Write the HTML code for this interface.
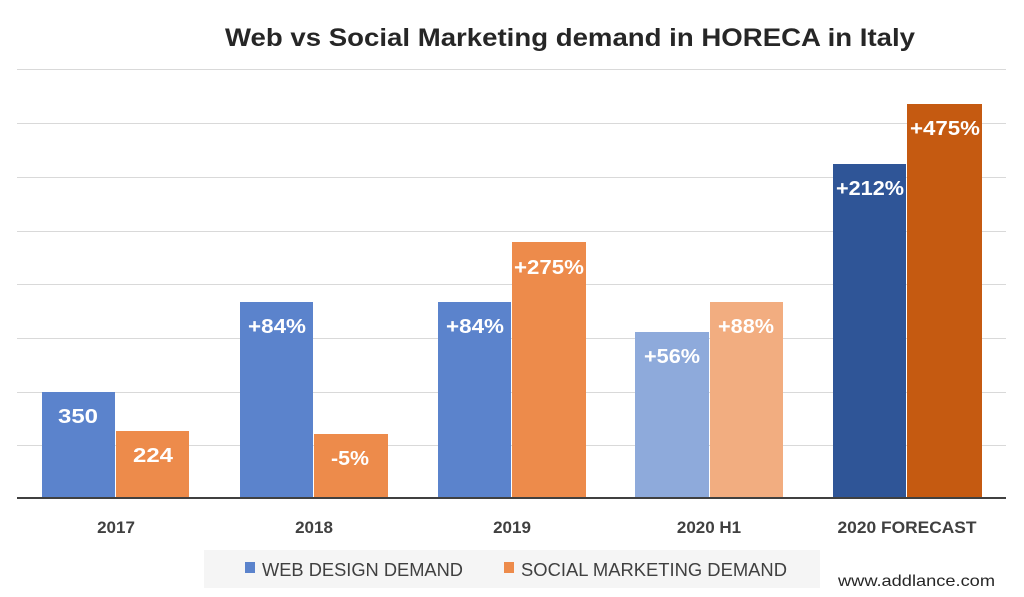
<!DOCTYPE html>
<html><head><meta charset="utf-8"><style>
html,body{margin:0;padding:0;background:#fff}
svg{display:block;font-family:"Liberation Sans",sans-serif}
</style></head><body>
<svg width="1024" height="597" viewBox="0 0 1024 597">
<rect width="1024" height="597" fill="#fff"/>
<text x="570" y="46" text-anchor="middle" font-size="25" font-weight="bold" fill="#262626" textLength="690" lengthAdjust="spacingAndGlyphs">Web vs Social Marketing demand in HORECA in Italy</text>
<g stroke="#d9d9d9" stroke-width="1">
<line x1="17" x2="1006" y1="69.5" y2="69.5"/>
<line x1="17" x2="1006" y1="123.5" y2="123.5"/>
<line x1="17" x2="1006" y1="177.5" y2="177.5"/>
<line x1="17" x2="1006" y1="231.5" y2="231.5"/>
<line x1="17" x2="1006" y1="284.5" y2="284.5"/>
<line x1="17" x2="1006" y1="338.5" y2="338.5"/>
<line x1="17" x2="1006" y1="392.5" y2="392.5"/>
<line x1="17" x2="1006" y1="445.5" y2="445.5"/>
</g>
<rect x="42" y="392" width="73" height="106" fill="#5b83cc"/>
<rect x="116" y="431" width="73" height="67" fill="#ed8b4b"/>
<rect x="240" y="302" width="73" height="196" fill="#5b83cc"/>
<rect x="314" y="434" width="74" height="64" fill="#ed8b4b"/>
<rect x="438" y="302" width="73" height="196" fill="#5b83cc"/>
<rect x="512" y="242" width="74" height="256" fill="#ed8b4b"/>
<rect x="635" y="332" width="74" height="166" fill="#8eaadb"/>
<rect x="710" y="302" width="73" height="196" fill="#f2ad80"/>
<rect x="833" y="164" width="73" height="334" fill="#2f5597"/>
<rect x="907" y="104" width="75" height="394" fill="#c55a11"/>
<line x1="17" x2="1006" y1="498" y2="498" stroke="#404040" stroke-width="2"/>
<g font-size="20" font-weight="bold" fill="#fff" text-anchor="middle">
<text x="78" y="423" textLength="40" lengthAdjust="spacingAndGlyphs">350</text>
<text x="153" y="462" textLength="40" lengthAdjust="spacingAndGlyphs">224</text>
<text x="277" y="333" textLength="58" lengthAdjust="spacingAndGlyphs">+84%</text>
<text x="350" y="465" textLength="38" lengthAdjust="spacingAndGlyphs">-5%</text>
<text x="475" y="333" textLength="58" lengthAdjust="spacingAndGlyphs">+84%</text>
<text x="549" y="274" textLength="70" lengthAdjust="spacingAndGlyphs">+275%</text>
<text x="672" y="363" textLength="56" lengthAdjust="spacingAndGlyphs">+56%</text>
<text x="746" y="333" textLength="56" lengthAdjust="spacingAndGlyphs">+88%</text>
<text x="870" y="195" textLength="68" lengthAdjust="spacingAndGlyphs">+212%</text>
<text x="945" y="135" textLength="70" lengthAdjust="spacingAndGlyphs">+475%</text>
</g>
<g font-size="17" font-weight="bold" fill="#404040" text-anchor="middle">
<text x="116" y="533">2017</text>
<text x="314" y="533">2018</text>
<text x="512" y="533">2019</text>
<text x="709" y="533">2020 H1</text>
<text x="907" y="533" textLength="139" lengthAdjust="spacingAndGlyphs">2020 FORECAST</text>
</g>
<rect x="204" y="550" width="616" height="38" fill="#f5f5f5"/>
<rect x="245" y="562" width="10" height="11" fill="#5b83cc"/>
<text x="262" y="576" font-size="18" fill="#404040" textLength="201" lengthAdjust="spacingAndGlyphs">WEB DESIGN DEMAND</text>
<rect x="504" y="562" width="10" height="11" fill="#ed8b4b"/>
<text x="521" y="576" font-size="18" fill="#404040" textLength="266" lengthAdjust="spacingAndGlyphs">SOCIAL MARKETING DEMAND</text>
<text x="838" y="586" font-size="16" fill="#262626" textLength="157" lengthAdjust="spacingAndGlyphs">www.addlance.com</text>
</svg>
</body></html>
